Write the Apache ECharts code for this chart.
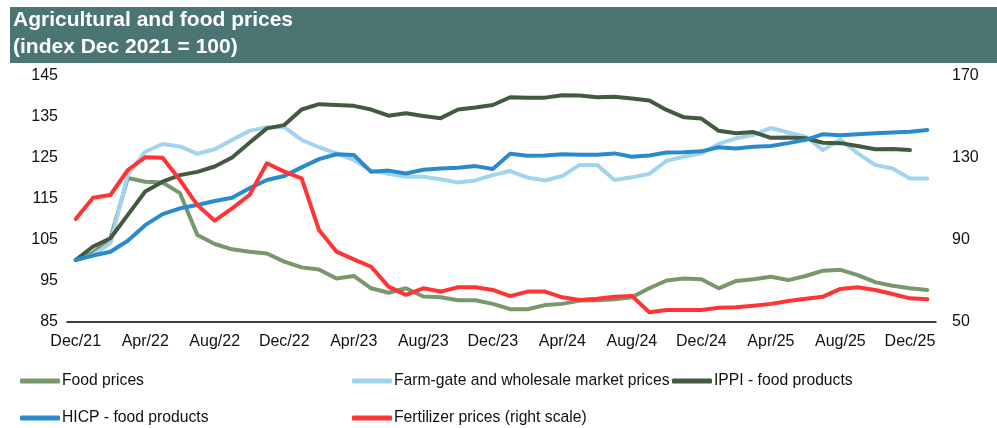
<!DOCTYPE html>
<html>
<head>
<meta charset="utf-8">
<script src="https://cdn.jsdelivr.net/npm/echarts@6/dist/echarts.min.js"></script>
<style>
  html, body { margin: 0; padding: 0; background: #fff; }
  #chart { width: 997px; height: 428px; }
</style>
</head>
<body>
<div id="chart"></div>
<script>
// monthly, Dec/21 .. Jan/26
const months = ['Dec/21','Jan/22','Feb/22','Mar/22','Apr/22','May/22','Jun/22','Jul/22','Aug/22','Sep/22','Oct/22','Nov/22',
  'Dec/22','Jan/23','Feb/23','Mar/23','Apr/23','May/23','Jun/23','Jul/23','Aug/23','Sep/23','Oct/23','Nov/23',
  'Dec/23','Jan/24','Feb/24','Mar/24','Apr/24','May/24','Jun/24','Jul/24','Aug/24','Sep/24','Oct/24','Nov/24',
  'Dec/24','Jan/25','Feb/25','Mar/25','Apr/25','May/25','Jun/25','Jul/25','Aug/25','Sep/25','Oct/25','Nov/25',
  'Dec/25','Jan/26']

const foodPrices = [100, 101.8, 105.3, 120, 119.1, 118.9, 116.3, 106.1, 103.9, 102.6, 102, 101.6,
  99.6, 98.2, 97.7, 95.5, 96.1, 93.1, 92, 93.1, 91.1, 90.9, 90.2, 90.2,
  89.3, 88, 88, 89, 89.3, 90.1, 90.2, 90.4, 90.9, 93.1, 95, 95.5,
  95.3, 93.1, 94.9, 95.3, 95.9, 95.1, 96.1, 97.4, 97.6, 96.3, 94.6, 93.7,
  93.1, 92.7]
const farmGate = [100, 101.2, 104.1, 120.8, 126.4, 128.3, 127.7, 125.9, 127, 129.3, 131.5, 132.4,
  132.4, 129.3, 127.5, 126, 124.4, 121.8, 121, 120.3, 120.3, 119.7, 118.9, 119.4,
  120.7, 121.7, 120.1, 119.4, 120.5, 123.2, 123.2, 119.5, 120.2, 121, 124.2, 125.2,
  126, 128.3, 129.7, 130.5, 132.2, 131.1, 130.1, 126.8, 129.4, 126, 123.2, 122.3,
  119.9, 119.9]
const ippi = [100, 103.3, 105.3, 111, 116.7, 119.1, 120.7, 121.5, 122.8, 125, 128.6, 132.1,
  132.9, 136.7, 138, 137.8, 137.6, 136.7, 135.2, 135.8, 135.1, 134.6, 136.7, 137.2,
  137.8, 139.7, 139.6, 139.6, 140.2, 140.1, 139.7, 139.8, 139.4, 138.9, 136.6, 134.8,
  134.5, 131.5, 130.9, 131.2, 129.8, 129.9, 129.7, 128.6, 128.5, 127.8, 127, 127.1,
  126.8, null]
const hicp = [100, 101.1, 102, 104.7, 108.5, 111.2, 112.6, 113.4, 114.4, 115.2, 117.5, 119.5,
  120.5, 122.6, 124.6, 125.8, 125.6, 121.5, 121.8, 121.1, 122, 122.3, 122.5, 122.9,
  122.2, 125.9, 125.4, 125.5, 125.8, 125.7, 125.7, 126, 125.2, 125.5, 126.2, 126.3,
  126.5, 127.5, 127.2, 127.6, 127.8, 128.5, 129.3, 130.7, 130.4, 130.7, 130.9, 131.1,
  131.3, 131.7]
const fertilizer = [100, 110.4, 111.7, 123.9, 130.1, 129.9, 119, 106.8, 99.2, 105.2, 111.7, 127.2,
  123.1, 119.8, 94.6, 84.1, 80.3, 76.7, 67, 63, 66.2, 64.6, 66.7, 66.7,
  65.4, 62.4, 64.6, 64.6, 61.8, 60.5, 61.1, 62.1, 62.5, 54.5, 55.6, 55.6,
  55.6, 56.7, 56.9, 57.7, 58.6, 60, 61.1, 62.1, 65.9, 66.7, 65.4, 63.4,
  61.3, 60.8]

const leftTicks = [85, 95, 105, 115, 125, 135, 145]
const rightTicks = [50, 90, 130, 170]

const names = ['Food prices', 'Farm-gate and wholesale market prices', 'IPPI - food products',
  'HICP - food products', 'Fertilizer prices (right scale)']
const colors = ['#78976C', '#A3D4EF', '#435A40', '#2A8BCB', '#FF3535']

const font = 'Liberation Sans'
const chart = echarts.init(document.getElementById('chart'))

function mkLegend (name, left, top) {
  return {
    data: [name],
    left: left,
    top: top,
    icon: 'roundRect',
    itemWidth: 40,
    itemHeight: 5,
    itemGap: 0,
    padding: 0,
    textStyle: { fontFamily: font, fontSize: 15.7, color: '#111', padding: [0, 0, 0, -3] }
  }
}

const option = {
  animation: false,
  color: colors,
  graphic: [
    {
      type: 'rect',
      shape: { x: 10, y: 7, width: 987, height: 56 },
      style: { fill: '#4A7572' },
      silent: true
    }
  ],
  title: {
    text: 'Agricultural and food prices\n(index Dec 2021 = 100)',
    left: 13,
    top: 7,
    padding: 0,
    textStyle: {
      fontFamily: font,
      fontSize: 21,
      fontWeight: 'bold',
      color: '#fff',
      lineHeight: 27
    }
  },
  legend: [
    mkLegend(names[0], 20, 373),
    mkLegend(names[1], 352, 373),
    mkLegend(names[2], 672, 373),
    mkLegend(names[3], 20, 410),
    mkLegend(names[4], 352, 410)
  ],
  grid: { left: 67, right: 61, top: 75.5, bottom: 106.5 },
  xAxis: {
    type: 'category',
    data: months,
    boundaryGap: true,
    axisLine: { lineStyle: { color: '#000', width: 1.5 } },
    axisTick: { show: false },
    axisLabel: {
      interval: 3,
      color: '#111',
      fontFamily: font,
      fontSize: 16,
      margin: 12
    }
  },
  yAxis: [
    {
      type: 'value',
      min: 85,
      max: 145,
      interval: 5,
      splitLine: { show: false },
      axisLine: { show: false },
      axisTick: { show: false },
      axisLabel: {
        customValues: leftTicks,
        color: '#111',
        fontFamily: font,
        fontSize: 16,
        margin: 9
      }
    },
    {
      type: 'value',
      min: 50,
      max: 170,
      interval: 10,
      splitLine: { show: false },
      axisLine: { show: false },
      axisTick: { show: false },
      axisLabel: {
        customValues: rightTicks,
        color: '#111',
        fontFamily: font,
        fontSize: 16,
        margin: 16
      }
    }
  ],
  series: [
    { name: names[0], data: foodPrices },
    { name: names[1], data: farmGate },
    { name: names[2], data: ippi },
    { name: names[3], data: hicp },
    { name: names[4], data: fertilizer, yAxisIndex: 1 }
  ].map(s => Object.assign({
    type: 'line',
    symbol: 'none',
    smooth: false,
    lineStyle: { width: 4, cap: 'round', join: 'round' }
  }, s))
}
chart.setOption(option)
</script>
</body>
</html>
